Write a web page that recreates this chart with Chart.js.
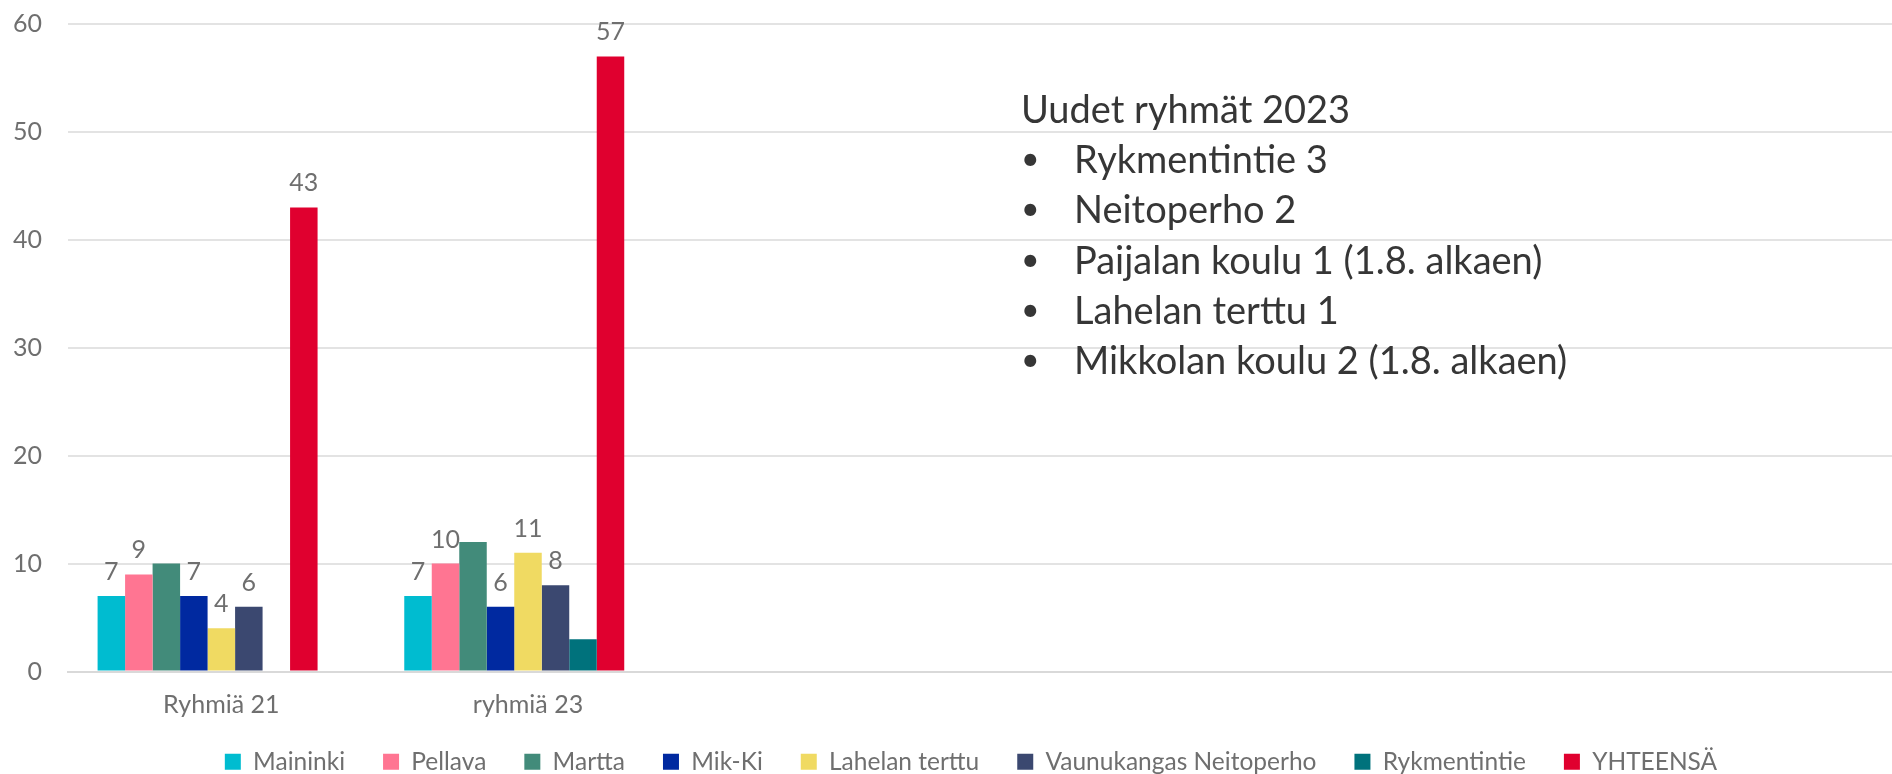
<!DOCTYPE html>
<html>
<head>
<meta charset="utf-8">
<script src="https://cdn.jsdelivr.net/npm/chart.js@4"></script>
<style>
  html, body { margin: 0; padding: 0; width: 1892px; height: 774px; overflow: hidden; background: #fff; }
  #wrap { position: absolute; left: 0; top: 0; width: 1944px; height: 810px; }
  #note { position: absolute; left: 1021px; top: 83px; font: 38px Lato, 'Liberation Sans', sans-serif;
          color: #363636; line-height: 50.2px; white-space: nowrap; }
  #note .b { display: inline-block; width: 53px; font-size: 32px; vertical-align: top; }
</style>
</head>
<body>
<div id="wrap"><canvas id="chart"></canvas></div>
<div id="note">
  <div>Uudet ryhmät 2023</div>
  <div><span class="b">•</span>Rykmentintie 3</div>
  <div><span class="b">•</span>Neitoperho 2</div>
  <div><span class="b">•</span>Paijalan koulu 1 (1.8. alkaen)</div>
  <div><span class="b">•</span>Lahelan terttu 1</div>
  <div><span class="b">•</span>Mikkolan koulu 2 (1.8. alkaen)</div>
</div>
<script>
"use strict";

// categories (the chart keeps four empty slots on the right)
const groups = ['Ryhmiä 21', 'ryhmiä 23', '', '', '', ''];

const maininki      = [7, 7];
const pellava       = [9, 10];
const martta        = [10, 12];
const mikKi         = [7, 6];
const lahelanTerttu = [4, 11];
const vaunukangas   = [6, 8];
const rykmentintie  = [null, 3];
const yhteensa      = [43, 57];
const blankSeries   = [null, null];

const yTicks = [0, 10, 20, 30, 40, 50, 60];

const FONT = "Lato, 'Liberation Sans', sans-serif";
const GREY = '#6f6f6f';

const series = [
  { label: 'Maininki', data: maininki, color: '#00BCD0', values: true },
  { label: 'Pellava', data: pellava, color: '#FF7592', values: true },
  { label: 'Martta', data: martta, color: '#428B7A', values: false },
  { label: 'Mik-Ki', data: mikKi, color: '#0029A0', values: true },
  { label: 'Lahelan terttu', data: lahelanTerttu, color: '#F0DA62', values: true },
  { label: 'Vaunukangas Neitoperho', data: vaunukangas, color: '#3B4870', values: true },
  { label: 'Rykmentintie', data: rykmentintie, color: '#00727C', values: false },
  { label: 'YHTEENSÄ', data: yhteensa, color: '#E0002F', values: true },
  { label: '', data: blankSeries, color: 'rgba(0,0,0,0)', values: false }
];

// numbers above the bars
const valueLabels = {
  id: 'valueLabels',
  afterDatasetsDraw(chart) {
    const ctx = chart.ctx;
    ctx.save();
    ctx.font = '25px ' + FONT;
    ctx.fillStyle = GREY;
    ctx.textAlign = 'center';
    ctx.textBaseline = 'alphabetic';
    chart.data.datasets.forEach((ds, i) => {
      if (!ds.showValues) return;
      chart.getDatasetMeta(i).data.forEach((bar, j) => {
        const v = ds.data[j];
        if (v == null) return;
        ctx.fillText(String(v), bar.x, bar.y - 16);
      });
    });
    ctx.restore();
  }
};

// pull the legend row closer to the axis labels and re-centre it on the full width
const legendNudge = {
  id: 'legendNudge',
  afterLayout(chart) {
    const lg = chart.legend;
    if (!lg) return;
    lg.top -= 26;
    lg.bottom -= 26;
    lg.left += 17;
    lg.right += 17;
  }
};

new Chart(document.getElementById('chart'), {
  type: 'bar',
  data: {
    labels: groups,
    datasets: series.map(s => ({
      label: s.label,
      data: s.data,
      backgroundColor: s.color,
      borderWidth: 0,
      showValues: s.values,
      categoryPercentage: 0.807,
      barPercentage: 1.0
    }))
  },
  options: {
    responsive: true,
    maintainAspectRatio: false,
    animation: false,
    layout: { padding: { top: 24, right: 36, left: 0, bottom: 0 } },
    plugins: {
      tooltip: { enabled: false },
      legend: {
        position: 'bottom',
        labels: {
          filter: item => item.text !== '',
          boxWidth: 16,
          boxHeight: 16,
          padding: 38,
          color: GREY,
          font: { family: FONT, size: 24.5 }
        }
      }
    },
    scales: {
      x: {
        grid: { display: false, drawTicks: false },
        border: { display: true, color: '#d9d9d9', width: 2 },
        ticks: { color: GREY, font: { family: FONT, size: 25 }, padding: 18, maxRotation: 0, autoSkip: false }
      },
      y: {
        min: 0,
        max: 60,
        afterBuildTicks: s => { s.ticks = yTicks.map(v => ({ value: v })); },
        grid: { color: '#e3e3e3', lineWidth: 2, drawTicks: false },
        border: { display: false },
        ticks: { color: GREY, font: { family: FONT, size: 25 }, padding: 26 },
        afterFit: s => { s.width = 68; s.paddingTop = 0; s.paddingBottom = 0; }
      }
    }
  },
  plugins: [valueLabels, legendNudge]
});
</script>
</body>
</html>
